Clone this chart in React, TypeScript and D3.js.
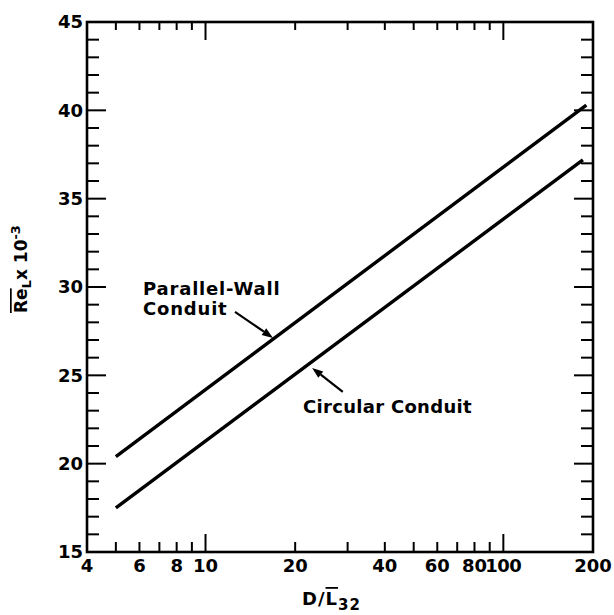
import React from "react";
import * as d3 from "d3";

const xDomain: [number, number] = [4, 200];
const yDomain: [number, number] = [15, 45];
const xTickLabels = [4, 6, 8, 10, 20, 40, 60, 80, 100, 200];
const xMinorTicks = [5, 6, 7, 8, 9, 20, 30, 40, 50, 60, 70, 80, 90];
const xMajorTicks = [10, 100];
const yTickLabels = [15, 20, 25, 30, 35, 40, 45];
const yMinorTicks = d3.range(16, 45);

const parallelX = [5, 190];
const parallelY = [20.4, 40.3];
const circularX = [5, 185];
const circularY = [17.5, 37.2];

const parallelArrow = { from: [12.56, 28.59], to: [16.85, 27.12] };
const circularArrow = { from: [28.9, 24.06], to: [22.8, 25.42] };

const W = 614, H = 615;
const m = { left: 87, right: 21, top: 22, bottom: 63 };
const FONT = "'DejaVu Sans', sans-serif";

export default function App() {
  const x = d3.scaleLog().domain(xDomain).range([m.left, W - m.right]);
  const y = d3.scaleLinear().domain(yDomain).range([H - m.bottom, m.top]);
  const line = d3.line<[number, number]>().x((d) => x(d[0])).y((d) => y(d[1]));
  const pts = (xs: number[], ys: number[]) => xs.map((v, i) => [v, ys[i]] as [number, number]);
  const x0 = x.range()[0], x1 = x.range()[1];
  const y0 = y.range()[0], y1 = y.range()[1];

  const arrow = (a: { from: number[]; to: number[] }, key: string) => {
    const fx = x(a.from[0]), fy = y(a.from[1]);
    const tx = x(a.to[0]), ty = y(a.to[1]);
    const ang = Math.atan2(ty - fy, tx - fx);
    const L = 11, Wd = 4;
    const bx = tx - L * Math.cos(ang), by = ty - L * Math.sin(ang);
    const p1 = [bx + Wd * Math.sin(ang), by - Wd * Math.cos(ang)];
    const p2 = [bx - Wd * Math.sin(ang), by + Wd * Math.cos(ang)];
    return (
      <g key={key}>
        <line x1={fx} y1={fy} x2={bx} y2={by} stroke="#000" strokeWidth={2.2} />
        <polygon points={`${tx},${ty} ${p1[0]},${p1[1]} ${p2[0]},${p2[1]}`} fill="#000" />
      </g>
    );
  };

  return (
    <svg width={W} height={H} style={{ position: "absolute", left: 0, top: 0, background: "#fff" }}
      fontFamily={FONT} fontWeight="bold">
      <rect x={x0} y={y1} width={x1 - x0} height={y0 - y1} fill="none" stroke="#000" strokeWidth={2.6} />
      {yMinorTicks.map((v) => {
        const major = v % 5 === 0;
        const len = major ? 19 : 12;
        return (
          <g key={"yt" + v}>
            <line x1={x0} x2={x0 + len} y1={y(v)} y2={y(v)} stroke="#000" strokeWidth={2} />
            <line x1={x1} x2={x1 - len} y1={y(v)} y2={y(v)} stroke="#000" strokeWidth={2} />
          </g>
        );
      })}
      {xMinorTicks.map((v) => (
        <g key={"xt" + v}>
          <line x1={x(v)} x2={x(v)} y1={y0} y2={y0 - 10} stroke="#000" strokeWidth={2} />
          <line x1={x(v)} x2={x(v)} y1={y1} y2={y1 + 8} stroke="#000" strokeWidth={2} />
        </g>
      ))}
      {xMajorTicks.map((v) => (
        <g key={"xM" + v}>
          <line x1={x(v)} x2={x(v)} y1={y0} y2={y0 - 18} stroke="#000" strokeWidth={2} />
          <line x1={x(v)} x2={x(v)} y1={y1} y2={y1 + 18} stroke="#000" strokeWidth={2} />
        </g>
      ))}
      {yTickLabels.map((v) => (
        <text key={"yl" + v} x={x0 - 4} y={y(v)} dy="0.36em" textAnchor="end" fontSize={18}>
          {v}
        </text>
      ))}
      {xTickLabels.map((v) => (
        <text key={"xl" + v} x={x(v)} y={y0 + 20} textAnchor="middle" fontSize={18}
          letterSpacing={v === 100 ? -0.5 : 0}>
          {v}
        </text>
      ))}
      <path d={line(pts(parallelX, parallelY)) || ""} fill="none" stroke="#000" strokeWidth={3.4} />
      <path d={line(pts(circularX, circularY)) || ""} fill="none" stroke="#000" strokeWidth={3.4} />
      <text x={x(6.17)} y={y(29.55)} fontSize={18} letterSpacing={0.8}>Parallel-Wall</text>
      <text x={x(6.17)} y={y(28.42)} fontSize={18} letterSpacing={0.8}>Conduit</text>
      <text x={x(21.25)} y={y(22.87)} fontSize={18} letterSpacing={0.3}>Circular Conduit</text>
      {arrow(parallelArrow, "pa")}
      {arrow(circularArrow, "ca")}
      <text x={302} y={605} fontSize={18} letterSpacing={1}>
        D/<tspan style={{ textDecoration: "overline" }}>L</tspan>
        <tspan fontSize={15} dy={5}>32</tspan>
      </text>
      <text transform="translate(27,313) rotate(-90)" fontSize={17}>
        <tspan style={{ textDecoration: "overline" }}>Re</tspan>
        <tspan fontSize={13} dy={4}>L</tspan>
        <tspan dy={-4}>x 10</tspan>
        <tspan fontSize={13} dy={-7}>-3</tspan>
      </text>
    </svg>
  );
}
